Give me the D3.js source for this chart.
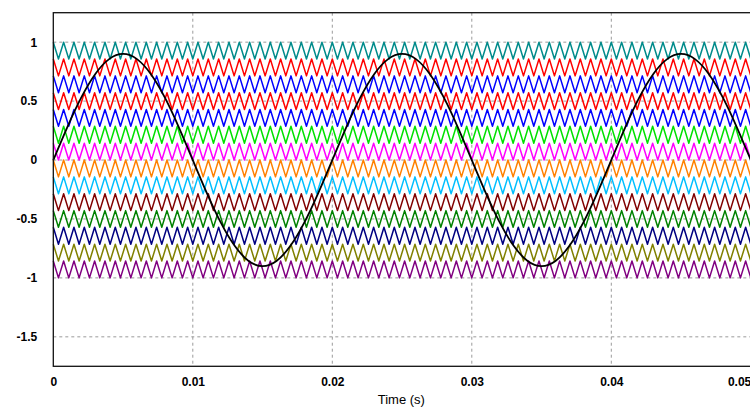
<!DOCTYPE html>
<html>
<head>
<meta charset="utf-8">
<script src="https://cdn.jsdelivr.net/npm/d3@7"></script>
<style>
  body { margin: 0; background: #fff; }
  svg { display: block; font-family: "Liberation Sans", Arial, sans-serif; }
  .axis text { font-size: 12px; font-weight: bold; fill: #000; }
  .axis path { display: none; }
  .grid line { stroke: #9a9a9a; stroke-width: 1; stroke-dasharray: 3,3; }
</style>
</head>
<body>
<div id="chart"></div>
<script>
// carrier corner times in ms (even index = top of band, odd = bottom)
var carrierTimes = [
  0, 0.370, 0.741, 1.111, 1.481, 1.852, 2.222, 2.593, 2.963, 3.333, 3.704, 4.074, 4.444, 4.815,
  5.185, 5.556, 5.926, 6.296, 6.667, 7.037, 7.407, 7.778, 8.148, 8.519, 8.889, 9.259, 9.630,
  10, 10.370, 10.741, 11.111, 11.481, 11.852, 12.222, 12.593, 12.963, 13.333, 13.704, 14.074, 14.444, 14.815,
  15.185, 15.556, 15.926, 16.296, 16.667, 17.037, 17.407, 17.778, 18.148, 18.519, 18.889, 19.259, 19.630,
  20, 20.370, 20.741, 21.111, 21.481, 21.852, 22.222, 22.593, 22.963, 23.333, 23.704, 24.074, 24.444, 24.815,
  25.185, 25.556, 25.926, 26.296, 26.667, 27.037, 27.407, 27.778, 28.148, 28.519, 28.889, 29.259, 29.630,
  30, 30.370, 30.741, 31.111, 31.481, 31.852, 32.222, 32.593, 32.963, 33.333, 33.704, 34.074, 34.444, 34.815,
  35.185, 35.556, 35.926, 36.296, 36.667, 37.037, 37.407, 37.778, 38.148, 38.519, 38.889, 39.259, 39.630,
  40, 40.370, 40.741, 41.111, 41.481, 41.852, 42.222, 42.593, 42.963, 43.333, 43.704, 44.074, 44.444, 44.815,
  45.185, 45.556, 45.926, 46.296, 46.667, 47.037, 47.407, 47.778, 48.148, 48.519, 48.889, 49.259, 49.630,
  50
];

// band edges of the 14 carriers, top to bottom
var levels = [1, 0.857, 0.714, 0.571, 0.429, 0.286, 0.143, 0,
  -0.143, -0.286, -0.429, -0.571, -0.714, -0.857, -1];

var carrierColors = ["#008b8b", "#ff0000", "#0000ff", "#ff0000", "#0000ff", "#00e000", "#ff00ff",
  "#ff8000", "#00bfff", "#800000", "#008000", "#000080", "#808000", "#800080"];

// reference (black) sampled every 1 ms
var sineTimes = [0, 1, 2, 3, 4, 5, 6, 7, 8, 9, 10, 11, 12, 13, 14, 15, 16, 17, 18, 19, 20,
  21, 22, 23, 24, 25, 26, 27, 28, 29, 30, 31, 32, 33, 34, 35, 36, 37, 38, 39, 40,
  41, 42, 43, 44, 45, 46, 47, 48, 49, 50];
var sineValues = [0, 0.278, 0.529, 0.728, 0.856, 0.9, 0.856, 0.728, 0.529, 0.278,
  0, -0.278, -0.529, -0.728, -0.856, -0.9, -0.856, -0.728, -0.529, -0.278,
  0, 0.278, 0.529, 0.728, 0.856, 0.9, 0.856, 0.728, 0.529, 0.278,
  0, -0.278, -0.529, -0.728, -0.856, -0.9, -0.856, -0.728, -0.529, -0.278,
  0, 0.278, 0.529, 0.728, 0.856, 0.9, 0.856, 0.728, 0.529, 0.278, 0];

var xTicks = [0, 0.01, 0.02, 0.03, 0.04, 0.05],
    yTicks = [1, 0.5, 0, -0.5, -1, -1.5];

var margin = {top: 12.7, left: 53.3},
    width = 697.5,
    height = 353.6;

var x = d3.scaleLinear().domain([0, 0.05]).range([0, width]);
var y = d3.scaleLinear().domain([-1.75, 1.25]).range([height, 0]);

var svg = d3.select("#chart").append("svg")
    .attr("width", 750)
    .attr("height", 407)
  .append("g")
    .attr("transform", "translate(" + margin.left + "," + margin.top + ")");

// grid
svg.append("g").attr("class", "grid")
  .selectAll("line.h").data(yTicks)
  .enter().append("line")
    .attr("x1", 0).attr("x2", width)
    .attr("y1", function(d) { return y(d); })
    .attr("y2", function(d) { return y(d); });

svg.append("g").attr("class", "grid")
  .selectAll("line.v").data(xTicks.slice(1))
  .enter().append("line")
    .attr("y1", 0).attr("y2", height)
    .attr("x1", function(d) { return x(d); })
    .attr("x2", function(d) { return x(d); });

// carriers
var carrierLine = d3.line()
    .x(function(d) { return x(d.t / 1000); })
    .y(function(d) { return y(d.v); });

carrierColors.forEach(function(c, i) {
  var pts = carrierTimes.map(function(t, k) {
    return {t: t, v: k % 2 === 0 ? levels[i] : levels[i + 1]};
  });
  svg.append("path")
      .datum(pts)
      .attr("fill", "none")
      .attr("stroke", c)
      .attr("stroke-width", 1.5)
      .attr("stroke-linejoin", "round")
      .attr("d", carrierLine);
});

// reference sine
var sineLine = d3.line()
    .curve(d3.curveNatural)
    .x(function(d, i) { return x(sineTimes[i] / 1000); })
    .y(function(d) { return y(d); });

svg.append("path")
    .datum(sineValues)
    .attr("fill", "none")
    .attr("stroke", "#000")
    .attr("stroke-width", 1.8)
    .attr("d", sineLine);

// frame
svg.append("rect")
    .attr("width", width)
    .attr("height", height)
    .attr("fill", "none")
    .attr("stroke", "#111")
    .attr("stroke-width", 1.3);

// axes
svg.append("g")
    .attr("class", "axis")
    .call(d3.axisLeft(y).tickValues(yTicks).tickSize(0).tickPadding(16)
      .tickFormat(function(d) { return String(d); }));

var xAxis = svg.append("g")
    .attr("class", "axis")
    .attr("transform", "translate(0," + height + ")")
    .call(d3.axisBottom(x).tickValues(xTicks).tickSize(0).tickPadding(11)
      .tickFormat(function(d) { return String(d); }));

xAxis.selectAll(".tick:last-of-type text").attr("text-anchor", "end");

svg.append("text")
    .attr("x", 348)
    .attr("y", 391)
    .attr("text-anchor", "middle")
    .style("font-size", "13px")
    .text("Time (s)");
</script>
</body>
</html>
